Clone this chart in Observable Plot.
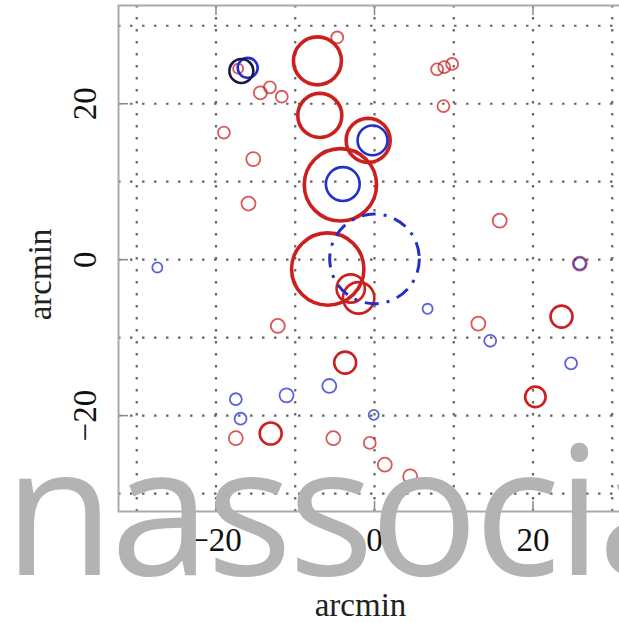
<!DOCTYPE html>
<html>
<head>
<meta charset="utf-8">
<script src="https://cdn.jsdelivr.net/npm/d3@7"></script>
<script src="https://cdn.jsdelivr.net/npm/@observablehq/plot@0.6"></script>
<style>
  html, body { margin: 0; padding: 0; background: white; overflow: hidden; }
  #wrap { position: relative; width: 619px; height: 623px; overflow: hidden; }
  #wrap svg.overlay { position: absolute; left: 0; top: 0; pointer-events: none; }
</style>
</head>
<body>
<div id="wrap"></div>
<script>
// Source positions (arcmin offsets) and circle radii (arcmin): [x, y, r]
const redSources = [
  [-7.2, 25.5, 3.05], [-4.7, 28.5, 0.76], [-6.9, 18.5, 2.8], [-0.8, 15.3, 2.8],
  [-4.3, 9.6, 4.6], [-5.9, -1.2, 4.6], [-3.0, -3.7, 1.8], [-2.0, -4.9, 2.0],
  [-14.4, 21.4, 0.83], [-13.2, 22.1, 0.76], [-11.7, 20.9, 0.76], [-19.0, 16.3, 0.76],
  [-15.3, 12.9, 0.89], [-15.9, 7.2, 0.89], [-12.2, -8.5, 0.89],
  [7.9, 24.4, 0.76], [8.8, 24.7, 0.76], [9.8, 25.1, 0.76], [8.7, 19.7, 0.76],
  [15.8, 5.0, 0.89], [25.9, -0.5, 0.89], [13.1, -8.2, 0.89], [23.6, -7.3, 1.4],
  [-3.7, -13.2, 1.4], [-17.5, -22.9, 0.89], [-13.1, -22.3, 1.4], [-5.2, -22.9, 0.89],
  [-0.6, -23.5, 0.76], [1.3, -26.3, 0.89], [4.5, -27.8, 0.89], [20.3, -17.6, 1.3],
  [-17.2, 24.5, 0.64]
];
const blueSources = [
  [-0.25, 15.3, 1.9], [-4.0, 9.7, 2.15], [-27.4, -1.0, 0.64], [6.7, -6.3, 0.64],
  [14.6, -10.4, 0.76], [24.8, -13.3, 0.76], [-5.7, -16.2, 0.89], [-11.1, -17.4, 0.89],
  [-17.5, -17.9, 0.76], [-16.9, -20.4, 0.76], [-0.1, -19.9, 0.64], [-16.0, 24.6, 1.27],
  [25.9, -0.5, 0.76]
];
const darkSources = [[-16.8, 24.2, 1.52]];
const errorCircle = [[0, 0.1, 5.7]];

const gridValues = [-30, -20, -10, 0, 10, 20, 30];
const tickValues = [-20, 0, 20];
const tickLabels = ["−20", "0", "20"];
const axisTitle = "arcmin";
const bannerText = "nassocia";

const xDomain = [-32.3, 32.3];
const yDomain = [-32.3, 32.6];

const W = 640, H = 623;
const mL = 118, mR = 10, mT = 5, mB = 112;
const fw = W - mL - mR, fh = H - mT - mB;
const kx = fw / (xDomain[1] - xDomain[0]);
const ky = fh / (yDomain[1] - yDomain[0]);
const k = (kx + ky) / 2;

const serif = "'Liberation Serif', 'DejaVu Serif', serif";
const label = v => tickLabels[tickValues.indexOf(v)];
const sw = d => d[2] > 2.5 ? 3.6 : d[2] > 1.2 ? 2.6 : 1.8;

const circles = (data, color, extra = {}) => Plot.dot(data, {
  x: d => d[0], y: d => d[1], r: d => d[2],
  stroke: color, fill: "none", strokeWidth: sw,
  strokeOpacity: d => d[2] > 1.2 ? 1 : 0.75,
  ...extra
});

const chart = Plot.plot({
  width: W, height: H,
  marginLeft: mL, marginRight: mR, marginTop: mT, marginBottom: mB,
  x: {domain: xDomain, axis: null},
  y: {domain: yDomain, axis: null},
  r: {type: "linear", domain: [0, 1], range: [0, k]},
  style: {background: "white", maxWidth: "none", overflow: "visible"},
  marks: [
    Plot.ruleX(gridValues, {stroke: "#666", strokeWidth: 2.2, strokeDasharray: "2.5,9.5"}),
    Plot.ruleY(gridValues, {stroke: "#666", strokeWidth: 2.2, strokeDasharray: "2.5,9.5"}),
    Plot.ruleX(tickValues, {stroke: "#888", strokeWidth: 1.5, insetTop: fh - 10}),
    Plot.ruleX(tickValues, {stroke: "#888", strokeWidth: 1.5, insetBottom: fh - 10}),
    Plot.ruleY(tickValues, {stroke: "#888", strokeWidth: 1.5, insetRight: fw - 10}),
    Plot.frame({stroke: "#aaa", strokeWidth: 2}),
    circles(redSources, "#cc2020"),
    circles(blueSources, "#2230c8"),
    circles(darkSources, "#1a1a40"),
    Plot.dot(errorCircle, {
      x: d => d[0], y: d => d[1], r: d => d[2],
      stroke: "#2230c8", fill: "none", strokeWidth: 3,
      strokeDasharray: "14,8,3,8"
    }),
    Plot.text(tickValues, {
      x: d => d, text: label, frameAnchor: "bottom", dy: 29,
      lineAnchor: "middle", fontSize: 33, fontFamily: serif, fill: "#111"
    }),
    Plot.text(tickValues, {
      y: d => d, text: label, frameAnchor: "left", dx: -33, rotate: -90,
      textAnchor: "middle", lineAnchor: "middle", fontSize: 33, fontFamily: serif, fill: "#111"
    }),
    Plot.text([axisTitle], {
      text: d => d, frameAnchor: "bottom", dx: -14, dy: 94,
      lineAnchor: "middle", fontSize: 33, fontFamily: serif, fill: "#222"
    }),
    Plot.text([axisTitle], {
      text: d => d, frameAnchor: "left", dx: -78, dy: 16, rotate: -90,
      textAnchor: "middle", lineAnchor: "middle", fontSize: 33, fontFamily: serif, fill: "#222"
    })
  ]
});

const wrap = document.getElementById("wrap");
wrap.appendChild(chart);

// Large grey heading text lying across the lower part of the figure
const overlay = d3.create("svg")
  .attr("class", "overlay")
  .attr("width", 619).attr("height", 623);
overlay.append("text")
  .attr("x", 4).attr("y", 575)
  .attr("font-family", "'Open Sans', 'Noto Sans', sans-serif")
  .attr("font-size", 180)
  .attr("letter-spacing", -4)
  .attr("fill", "#b3b3b3")
  .text(bannerText);
wrap.appendChild(overlay.node());
</script>
</body>
</html>
